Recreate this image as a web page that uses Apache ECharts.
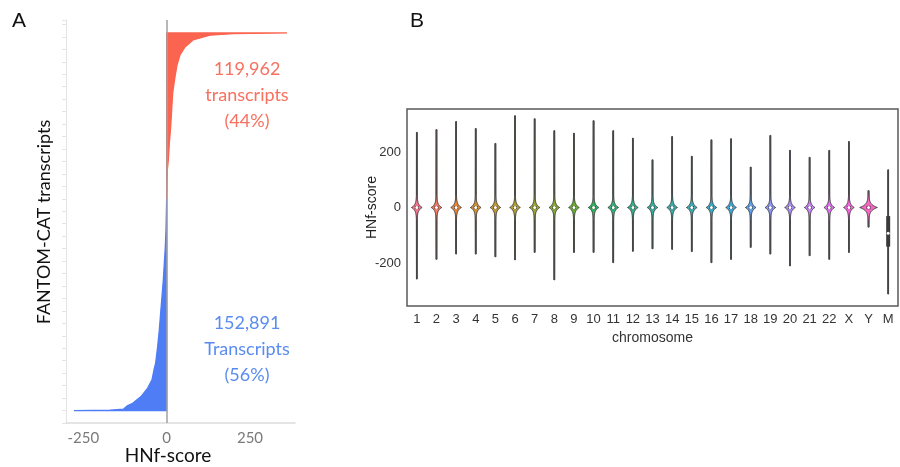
<!DOCTYPE html>
<html>
<head>
<meta charset="utf-8">
<title>HNf-score</title>
<script src="https://cdn.jsdelivr.net/npm/echarts@6/dist/echarts.min.js"></script>
<style>
  html, body { margin: 0; padding: 0; background: #fff; }
  #chart { width: 900px; height: 467px; }
</style>
</head>
<body>
<div id="chart"></div>
<script>
// Panel A: transcripts sorted by HNf-score (rank -> score)
const negRank = [0, 200, 1000, 3400, 5300, 10100, 16200, 22200, 29400, 34500, 46200, 58300, 70600, 82400, 94400, 106700, 118500, 130500, 152891];
const negScore = [-278, -170, -130, -118, -102, -77, -57, -44, -38, -33, -27, -22, -18, -14, -10, -7, -4, -2, 0];
const posRank = [152891, 173900, 181100, 193400, 204900, 217200, 229500, 241100, 249700, 257000, 262700, 267800, 271200, 272350, 272853];
const posScore = [0, 2, 5, 8, 12, 15, 18, 25, 31, 40, 55, 79, 130, 199, 361];
const scoreTicksA = [-250, 0, 250];
const posLabel = ['119,962', 'transcripts', '(44%)'];
const negLabel = ['152,891', 'Transcripts', '(56%)'];

// Panel B: HNf-score per chromosome (violins)
const chromosomes = ['1', '2', '3', '4', '5', '6', '7', '8', '9', '10', '11', '12', '13', '14', '15', '16', '17', '18', '19', '20', '21', '22', 'X', 'Y', 'M'];
const scoreMax = [271, 281, 310, 285, 231, 331, 320, 277, 268, 313, 277, 250, 172, 256, 185, 244, 248, 146, 260, 206, 181, 206, 238, 61, 136];
const scoreMin = [-258, -187, -168, -168, -178, -189, -162, -261, -162, -162, -199, -158, -149, -151, -159, -199, -187, -144, -168, -211, -174, -187, -162, -71, -312];
const scoreQ1 = [-5, -5, -5, -5, -5, -5, -5, -5, -5, -5, -5, -5, -5, -5, -5, -5, -5, -5, -5, -5, -5, -5, -5, -6, -141];
const scoreMedian = [0, 0, 0, 0, 0, 0, 0, 0, 0, 0, 0, 0, 0, 0, 0, 0, 0, 0, 0, 0, 0, 0, 0, 0, -93];
const scoreQ3 = [5, 5, 5, 5, 5, 5, 5, 5, 5, 5, 5, 5, 5, 5, 5, 5, 5, 5, 5, 5, 5, 5, 5, 6, -31];
const peakDensity = [1, 1, 1, 1, 1, 1, 1, 1, 1, 1, 1, 1, 1, 1, 1, 1, 1, 1, 1, 1, 1, 1, 1, 1.7, 0.15];
const scoreTicksB = [-200, 0, 200];

// husl-like palette, one per chromosome
const palette = ['#f77189', '#f4775f', '#e48434', '#d08f32', '#c09632', '#ae9d31', '#9ba331', '#86a831', '#68ab31', '#33b05e',
  '#33b07a', '#34af8a', '#35ad9b', '#36acab', '#37abb6', '#38a9c4', '#3ba5d6', '#5fa0eb', '#8895f3', '#a98bf4',
  '#c681f4', '#e06ff0', '#f561dc', '#f667c2', '#f76ca5'];

const RED = '#fa6450';
const BLUE = '#4e7df5';

const chart = echarts.init(document.getElementById('chart'), null, { renderer: 'canvas' });

function sideRenderer(scores, ranks, color) {
  return function (params, api) {
    const pts = [api.coord([0, ranks[0]])];
    for (let i = 0; i < scores.length; i++) {
      pts.push(api.coord([scores[i], ranks[i]]));
    }
    pts.push(api.coord([0, ranks[ranks.length - 1]]));
    return {
      type: 'polygon',
      shape: { points: pts },
      style: { fill: color, stroke: color, lineWidth: 1.3 }
    };
  };
}

function renderViolin(params, api) {
  const i = api.value(0);
  const lo = api.value(1), q1 = api.value(2), med = api.value(3), q3 = api.value(4), hi = api.value(5);
  const peak = api.value(6);
  const cx = api.coord([i, 0])[0];
  const halfW = 5 * peak;
  const widthAt = v => 0.3 + halfW * Math.exp(-Math.abs(v - med) / 11);

  const vs = [hi];
  for (let d = 45; d > 0; d -= 1.5) if (med + d < hi) vs.push(med + d);
  vs.push(med);
  for (let d = 1.5; d <= 45; d += 1.5) if (med - d > lo) vs.push(med - d);
  vs.push(lo);

  const right = vs.map(v => [cx + widthAt(v), api.coord([i, v])[1]]);
  const left = vs.slice().reverse().map(v => [cx - widthAt(v), api.coord([i, v])[1]]);
  const yHi = api.coord([i, hi])[1];
  const yLo = api.coord([i, lo])[1];
  const yQ3 = api.coord([i, q3])[1];
  const yQ1 = api.coord([i, q1])[1];
  const yMed = api.coord([i, med])[1];

  return {
    type: 'group',
    children: [
      {
        type: 'line',
        shape: { x1: cx, y1: yHi, x2: cx, y2: yLo },
        style: { stroke: '#4a4a4a', lineWidth: 1.8 }
      },
      {
        type: 'polygon',
        shape: { points: right.concat(left) },
        style: { fill: palette[i], stroke: '#454545', lineWidth: 1 }
      },
      {
        type: 'rect',
        shape: { x: cx - 2, y: yQ3, width: 4, height: Math.max(1, yQ1 - yQ3) },
        style: { fill: '#3a3a3a' }
      },
      {
        type: 'circle',
        shape: { cx: cx, cy: yMed, r: 1.5 },
        style: { fill: '#ffffff' }
      }
    ]
  };
}

const violinData = chromosomes.map((c, i) => [i, scoreMin[i], scoreQ1[i], scoreMedian[i], scoreQ3[i], scoreMax[i], peakDensity[i]]);

function textEl(x, y, text, size, color, family, rotation) {
  return {
    type: 'text',
    x: x,
    y: y,
    rotation: rotation || 0,
    silent: true,
    style: {
      text: text,
      fontSize: size,
      fontFamily: family,
      fill: color,
      align: 'center',
      verticalAlign: 'middle'
    }
  };
}

const graphics = [
  textEl(19, 21, 'A', 21, '#111', 'Liberation Sans'),
  textEl(417, 21, 'B', 21, '#111', 'Liberation Sans'),
  textEl(44, 222, 'FANTOM-CAT transcripts', 18, '#111', 'Lato', Math.PI / 2),
  textEl(168, 456, 'HNf-score', 19, '#111', 'Lato')
];
posLabel.forEach((t, k) => graphics.push(textEl(247, 69 + k * 26, t, 18, '#f8705f', 'Lato')));
negLabel.forEach((t, k) => graphics.push(textEl(247, 323 + k * 26, t, 18, '#5a8cf0', 'Lato')));

const option = {
  animation: false,
  backgroundColor: '#ffffff',
  textStyle: { fontFamily: 'Liberation Sans' },
  grid: [
    { left: 66, top: 20, width: 229, height: 403 },
    { left: 407, top: 109, width: 491, height: 197, show: true, borderColor: '#5a5a5a', borderWidth: 1.5 }
  ],
  xAxis: [
    {
      gridIndex: 0,
      type: 'value',
      min: -302,
      max: 385,
      axisLine: { show: true, onZero: false, lineStyle: { color: '#dcdcdc', width: 1.5 } },
      axisTick: { show: false },
      splitLine: { show: false },
      axisLabel: { customValues: scoreTicksA, color: '#7a7a7a', fontSize: 15, margin: 8, fontFamily: 'Lato' }
    },
    {
      gridIndex: 1,
      type: 'category',
      data: chromosomes,
      axisLine: { show: false },
      axisTick: { show: false },
      splitLine: { show: false },
      axisLabel: { interval: 0, color: '#333', fontSize: 13, margin: 7 },
      name: 'chromosome',
      nameLocation: 'middle',
      nameGap: 25,
      nameMoveOverlap: false,
      nameTextStyle: { color: '#333', fontSize: 14 }
    }
  ],
  yAxis: [
    {
      gridIndex: 0,
      type: 'value',
      min: -9000,
      max: 282200,
      interval: 9000,
      axisLine: { show: true, onZero: false, lineStyle: { color: '#e4e4e4' } },
      axisTick: { show: true, length: 4, lineStyle: { color: '#e4e4e4' } },
      axisLabel: { show: false },
      splitLine: { show: false }
    },
    {
      gridIndex: 1,
      type: 'value',
      min: -355,
      max: 355,
      axisLine: { show: false },
      axisTick: { show: false },
      splitLine: { show: false },
      axisLabel: { customValues: scoreTicksB, color: '#333', fontSize: 13, margin: 6 },
      name: 'HNf-score',
      nameLocation: 'middle',
      nameGap: 28,
      nameMoveOverlap: false,
      nameTextStyle: { color: '#222', fontSize: 14 }
    }
  ],
  series: [
    {
      type: 'custom',
      xAxisIndex: 0,
      yAxisIndex: 0,
      data: [[0, 0]],
      renderItem: sideRenderer(negScore, negRank, BLUE),
      silent: true
    },
    {
      type: 'custom',
      xAxisIndex: 0,
      yAxisIndex: 0,
      data: [[0, 0]],
      renderItem: sideRenderer(posScore, posRank, RED),
      silent: true,
      markLine: {
        silent: true,
        symbol: ['none', 'none'],
        label: { show: false },
        lineStyle: { color: '#a0a0a0', width: 1.5, type: 'solid' },
        data: [{ xAxis: 0 }]
      }
    },
    {
      type: 'custom',
      xAxisIndex: 1,
      yAxisIndex: 1,
      data: violinData,
      encode: { x: 0, y: [1, 2, 3, 4, 5] },
      renderItem: renderViolin,
      silent: true
    }
  ],
  graphic: graphics
};

chart.setOption(option);
</script>
</body>
</html>
